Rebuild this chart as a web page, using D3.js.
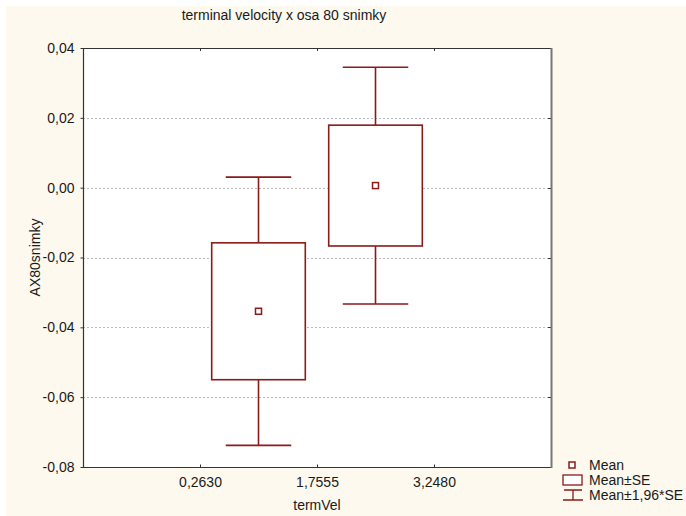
<!DOCTYPE html>
<html>
<head>
<meta charset="utf-8">
<script src="https://cdn.jsdelivr.net/npm/d3@7"></script>
<style>
  html, body { margin: 0; padding: 0; background: #ffffff; }
  svg { display: block; }
  text { font-family: "Liberation Sans", Arial, sans-serif; fill: #1a1a1a; }
</style>
</head>
<body>
<script>
// Interval boundaries of termVel (tick labels on the x axis)
const cutLabels = ["0,2630", "1,7555", "3,2480"];
// One group per interval that holds data
const groupPos = [1.5, 2.5];
const means = [-0.0354, 0.0006];
const stdErr = [0.0196, 0.0173];
const yTicks = [0.04, 0.02, 0.00, -0.02, -0.04, -0.06, -0.08];

const W = 686, H = 516;
const plot = { left: 83, right: 551, top: 48, bottom: 467 };
const red = "#8b1a1a";
const fs = "14px";

const svg = d3.select("body").append("svg").attr("width", W).attr("height", H);

// page background
svg.append("rect").attr("x", 6).attr("y", 6).attr("width", W - 6).attr("height", H - 6)
  .attr("fill", "#fdf9ee");

const x = d3.scaleLinear().domain([0, 4]).range([plot.left, plot.right]);
const y = d3.scaleLinear().domain([-0.08, 0.04]).range([plot.bottom, plot.top]);

const loc = d3.formatLocale({ decimal: ",", thousands: " ", grouping: [3], currency: ["", ""], minus: "-" });
const fmt = loc.format(".2f");

// plot area
svg.append("rect").attr("x", plot.left).attr("y", plot.top)
  .attr("width", plot.right - plot.left).attr("height", plot.bottom - plot.top)
  .attr("fill", "#ffffff");

// horizontal grid
svg.append("g").selectAll("line").data(yTicks.filter(v => v < 0.04 && v > -0.08)).join("line")
  .attr("x1", plot.left).attr("x2", plot.right)
  .attr("y1", d => Math.round(y(d)) + 0.5).attr("y2", d => Math.round(y(d)) + 0.5)
  .attr("stroke", "#b8b8b8").attr("stroke-dasharray", "2,2");

// y axis
const yAxis = d3.axisLeft(y).tickValues(yTicks).tickFormat(fmt).tickSize(3).tickPadding(6);
const gy = svg.append("g").attr("transform", `translate(${plot.left + 0.5},0)`).call(yAxis);
gy.select(".domain").remove();
gy.selectAll("line").attr("stroke", "#333");
gy.selectAll("text").style("font-size", fs).style("font-family", "Liberation Sans, Arial, sans-serif").attr("fill", "#1a1a1a");

// right side inner ticks
svg.append("g").selectAll("line").data(yTicks).join("line")
  .attr("x1", plot.right - 3).attr("x2", plot.right)
  .attr("y1", d => Math.round(y(d)) + 0.5).attr("y2", d => Math.round(y(d)) + 0.5)
  .attr("stroke", "#333");

// x axis (ticks at interval boundaries, pointing inward)
const xAxis = d3.axisBottom(x).tickValues([1, 2, 3]).tickFormat((d, i) => cutLabels[i])
  .tickSizeInner(-3).tickSizeOuter(0).tickPadding(10);
const gx = svg.append("g").attr("transform", `translate(0,${plot.bottom + 0.5})`).call(xAxis);
gx.select(".domain").remove();
gx.selectAll("line").attr("stroke", "#333");
gx.selectAll("text").style("font-size", fs).style("font-family", "Liberation Sans, Arial, sans-serif").attr("fill", "#1a1a1a");

// top inner ticks
svg.append("g").selectAll("line").data([1, 2, 3]).join("line")
  .attr("x1", d => Math.round(x(d)) + 0.5).attr("x2", d => Math.round(x(d)) + 0.5)
  .attr("y1", plot.top).attr("y2", plot.top + 3)
  .attr("stroke", "#333");

// frame
svg.append("path")
  .attr("d", `M${plot.left + 0.5},${plot.top + 0.5}H${plot.right}M${plot.left + 0.5},${plot.top}V${plot.bottom + 0.5}H${plot.right}`)
  .attr("stroke", "#333").attr("stroke-width", 1.2).attr("fill", "none");
svg.append("line")
  .attr("x1", plot.right + 0.5).attr("x2", plot.right + 0.5)
  .attr("y1", plot.top).attr("y2", plot.bottom + 1)
  .attr("stroke", "#777").attr("stroke-width", 2);

// boxes, whiskers, means
const step = x(1) - x(0);
const boxW = step * 0.8, capW = step * 0.56;
const groups = svg.append("g").selectAll("g").data(means.map((m, i) => ({ m, se: stdErr[i], p: groupPos[i] })))
  .join("g").attr("fill", "none").attr("stroke", red).attr("stroke-width", 1.6);

groups.append("line")
  .attr("x1", d => x(d.p)).attr("x2", d => x(d.p))
  .attr("y1", d => y(d.m + 1.96 * d.se)).attr("y2", d => y(d.m + d.se));
groups.append("line")
  .attr("x1", d => x(d.p)).attr("x2", d => x(d.p))
  .attr("y1", d => y(d.m - d.se)).attr("y2", d => y(d.m - 1.96 * d.se));
groups.append("line")
  .attr("x1", d => x(d.p) - capW / 2).attr("x2", d => x(d.p) + capW / 2)
  .attr("y1", d => y(d.m + 1.96 * d.se)).attr("y2", d => y(d.m + 1.96 * d.se));
groups.append("line")
  .attr("x1", d => x(d.p) - capW / 2).attr("x2", d => x(d.p) + capW / 2)
  .attr("y1", d => y(d.m - 1.96 * d.se)).attr("y2", d => y(d.m - 1.96 * d.se));
groups.append("rect")
  .attr("x", d => x(d.p) - boxW / 2).attr("width", boxW)
  .attr("y", d => y(d.m + d.se)).attr("height", d => y(d.m - d.se) - y(d.m + d.se))
  .attr("fill", "#ffffff");
groups.append("rect")
  .attr("x", d => x(d.p) - 3).attr("y", d => y(d.m) - 3)
  .attr("width", 6).attr("height", 6).attr("fill", "#ffffff").attr("stroke-width", 1.5);

// titles
svg.append("text").attr("x", 284).attr("y", 20).attr("text-anchor", "middle")
  .style("font-size", fs).text("terminal velocity x osa 80 snimky");
svg.append("text").attr("x", x(2)).attr("y", 510).attr("text-anchor", "middle")
  .style("font-size", fs).text("termVel");
svg.append("text").attr("transform", `translate(40,${(plot.top + plot.bottom) / 2}) rotate(-90)`)
  .attr("text-anchor", "middle").style("font-size", fs).text("AX80snimky");

// legend
const lg = svg.append("g");
lg.append("rect").attr("x", 569).attr("y", 462).attr("width", 6).attr("height", 6)
  .attr("fill", "#fff").attr("stroke", red).attr("stroke-width", 1.5);
lg.append("rect").attr("x", 563).attr("y", 475).attr("width", 19).attr("height", 10)
  .attr("fill", "#fff").attr("stroke", red).attr("stroke-width", 1.3);
lg.append("path").attr("d", "M564,490H582M573,490V500M563,500H583")
  .attr("fill", "none").attr("stroke", red).attr("stroke-width", 1.3);
const lgLabels = ["Mean", "Mean±SE", "Mean±1,96*SE"];
lg.selectAll("text.lab").data(lgLabels).join("text").attr("class", "lab")
  .attr("x", 589).attr("y", (d, i) => 470 + i * 15)
  .style("font-size", fs).text(d => d);
</script>
</body>
</html>
